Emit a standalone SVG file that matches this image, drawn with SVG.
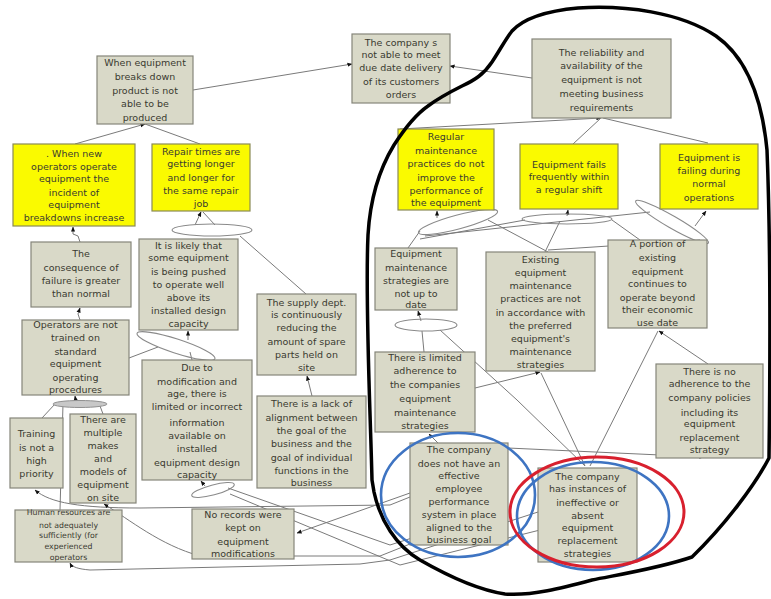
<svg xmlns="http://www.w3.org/2000/svg" width="771" height="599" viewBox="0 0 771 599">
<style>
.g{fill:#d9d9c8;stroke:#85857a;stroke-width:1.2}
.y{fill:#fafa00;stroke:#8a8a55;stroke-width:1.2}
.t{font-family:"DejaVu Sans",sans-serif;font-size:9.5px;fill:#3a3a30;text-anchor:middle}
.s{font-size:7.8px}
.c{fill:none;stroke:#7a7a7a;stroke-width:1}
.e{fill:none;stroke:#8a8a8a;stroke-width:1.1}
</style>
<defs>
<marker id="a" viewBox="0 0 6 6" refX="5.5" refY="3" markerWidth="5" markerHeight="5" orient="auto"><path d="M0,0.5 L6,3 L0,5.5 Z" fill="#111"/></marker>
</defs>
<rect width="771" height="599" fill="#fff"/>

<g id="connectors">
<path class="c" d="M193,90 L352,64" marker-end="url(#a)"/>
<path class="c" d="M532,78 L450,66" marker-end="url(#a)"/>
<path class="c" d="M75,144 L145,124" marker-end="url(#a)"/>
<path class="c" d="M200,144 L145,124"/>
<path class="c" d="M400,129 L601,118" marker-end="url(#a)"/>
<path class="c" d="M573,144 L601,118"/>
<path class="c" d="M708,143 L603,118"/>
<path class="c" d="M80,242 L78,236 L73,234 L73,227" marker-end="url(#a)"/>
<path class="c" d="M80,320 L78,314 L80,308" marker-end="url(#a)"/>
<path class="c" d="M195,225 L201,212" marker-end="url(#a)"/>
<path class="c" d="M215,225 L203,212"/>
<path class="c" d="M240,236 L306,294"/>
<path class="c" d="M188,340 L188,331" marker-end="url(#a)"/>
<path class="c" d="M129,358 L158,347"/>
<path class="c" d="M190,352 L192,360"/>
<path class="c" d="M312,396 L307,376" marker-end="url(#a)"/>
<path class="c" d="M76,402 L75,396" marker-end="url(#a)"/>
<path class="c" d="M55,404 L42,418"/>
<path class="c" d="M100,406 L103,414"/>
<path class="c" d="M63,404 L60,510"/>
<path class="c" d="M410,497 L390,505 L140,508 C80,508 50,503 35,490" marker-end="url(#a)"/>
<path class="c" d="M420,540 L380,556 L200,556 C160,545 130,520 104,504" marker-end="url(#a)"/>
<path class="c" d="M538,512 L390,560 L360,564 L90,570 C78,569 72,567 70,563" marker-end="url(#a)"/>
<path class="c" d="M410,493 L297,533" marker-end="url(#a)"/>
<path class="c" d="M205,486 L201,481" marker-end="url(#a)"/>
<path class="c" d="M228,488 L390,545 L412,538"/>
<path class="c" d="M230,494 L400,565 L540,530"/>
<path class="c" d="M421,321 L418,311" marker-end="url(#a)"/>
<path class="c" d="M422,331 L424,352"/>
<path class="c" d="M440,330 L517,400 L585,466"/>
<path class="c" d="M475,388 L540,372" marker-end="url(#a)"/>
<path class="c" d="M585,466 L541,373"/>
<path class="c" d="M590,466 L658,331"/>
<path class="c" d="M708,364 L659,331" marker-end="url(#a)"/>
<path class="c" d="M508,448 L704,457" marker-end="url(#a)"/>
<path class="c" d="M440,445 L429,434" marker-end="url(#a)"/>
<path class="c" d="M437,218 L437,211" marker-end="url(#a)"/>
<path class="c" d="M420,231 L408,248"/>
<path class="c" d="M488,220 L548,252"/>
<path class="c" d="M567,216 L568,210" marker-end="url(#a)"/>
<path class="c" d="M525,220 L420,239"/>
<path class="c" d="M612,220 L640,240"/>
<path class="c" d="M695,226 L706,211" marker-end="url(#a)"/>
<path class="c" d="M650,212 L425,236"/>
<path class="c" d="M700,240 L548,250"/>
<path class="c" d="M560,221 L545,252"/>
</g>

<g id="and-ellipses">
<ellipse class="e" cx="212" cy="230" rx="40" ry="6"/>
<ellipse class="e" cx="176" cy="346" rx="41" ry="7" transform="rotate(18 176 346)"/>
<ellipse cx="80" cy="404" rx="27" ry="3.5" fill="#c8c8c8" stroke="#909090"/>
<ellipse class="e" cx="213" cy="490" rx="22" ry="5" transform="rotate(-15 213 490)"/>
<ellipse class="e" cx="426" cy="325" rx="31" ry="6"/>
<ellipse class="e" cx="458" cy="222" rx="41" ry="7" transform="rotate(-15 458 222)"/>
<ellipse class="e" cx="567" cy="219" rx="45" ry="5"/>
<ellipse class="e" cx="672" cy="222" rx="42" ry="6" transform="rotate(30 672 222)"/>
</g>

<g id="n1"><rect class="g" x="97" y="56" width="96" height="68"/><text class="t"><tspan x="145" y="65.5">When equipment</tspan><tspan x="145" y="79.5">breaks down</tspan><tspan x="145" y="93.5">product is not</tspan><tspan x="145" y="106.5">able to be</tspan><tspan x="145" y="120.5">produced</tspan></text></g>
<g id="n2"><rect class="g" x="352" y="34" width="98" height="69"/><text class="t"><tspan x="401" y="45.5">The company s</tspan><tspan x="401" y="58">not able to meet</tspan><tspan x="401" y="71">due date delivery</tspan><tspan x="401" y="84.5">of its customers</tspan><tspan x="401" y="98">orders</tspan></text></g>
<g id="n3"><rect class="g" x="532" y="39" width="139" height="79"/><text class="t"><tspan x="601.5" y="55.5">The reliability and</tspan><tspan x="601.5" y="68.5">availability of the</tspan><tspan x="601.5" y="82.5">equipment is not</tspan><tspan x="601.5" y="96.5">meeting business</tspan><tspan x="601.5" y="110.5">requirements</tspan></text></g>
<g id="n4"><rect class="y" x="398" y="129" width="96" height="81"/><text class="t"><tspan x="446" y="139.5">Regular</tspan><tspan x="446" y="153.5">maintenance</tspan><tspan x="446" y="166.5">practices do not</tspan><tspan x="446" y="180.5">improve the</tspan><tspan x="446" y="193.5">performance of</tspan><tspan x="446" y="205.5">the equipment</tspan></text></g>
<g id="n5"><rect class="y" x="520" y="144" width="98" height="65"/><text class="t"><tspan x="569" y="167.5">Equipment fails</tspan><tspan x="569" y="179.5">frequently within</tspan><tspan x="569" y="192.5">a regular shift</tspan></text></g>
<g id="n6"><rect class="y" x="660" y="144" width="98" height="65"/><text class="t"><tspan x="709" y="160.5">Equipment is</tspan><tspan x="709" y="173.5">failing during</tspan><tspan x="709" y="186.5">normal</tspan><tspan x="709" y="200.5">operations</tspan></text></g>
<g id="n7"><rect class="y" x="13" y="144" width="122" height="82"/><text class="t"><tspan x="74" y="156.5">. When new</tspan><tspan x="74" y="169.5">operators operate</tspan><tspan x="74" y="181.5">equipment the</tspan><tspan x="74" y="195.5">incident  of</tspan><tspan x="74" y="207.5">equipment</tspan><tspan x="74" y="220.5">breakdowns increase</tspan></text></g>
<g id="n8"><rect class="y" x="152" y="144" width="98" height="67"/><text class="t"><tspan x="201" y="154.5">Repair times are</tspan><tspan x="201" y="166.5">getting longer</tspan><tspan x="201" y="180.5">and longer for</tspan><tspan x="201" y="193.5">the same repair</tspan><tspan x="201" y="206.5">job</tspan></text></g>
<g id="n9"><rect class="g" x="31" y="242" width="100" height="65"/><text class="t"><tspan x="81" y="256.5">The</tspan><tspan x="81" y="270.5">consequence of</tspan><tspan x="81" y="283.5">failure is greater</tspan><tspan x="81" y="296.5">than normal</tspan></text></g>
<g id="n10"><rect class="g" x="139" y="239" width="99" height="91"/><text class="t"><tspan x="188.5" y="248.5">It is likely that</tspan><tspan x="188.5" y="260.5">some equipment</tspan><tspan x="188.5" y="274.5">is being pushed</tspan><tspan x="188.5" y="287.5">to operate well</tspan><tspan x="188.5" y="300.5">above its</tspan><tspan x="188.5" y="313.5">installed design</tspan><tspan x="188.5" y="326.5">capacity</tspan></text></g>
<g id="n11"><rect class="g" x="257" y="294" width="99" height="81"/><text class="t"><tspan x="306.5" y="305.5">The supply dept.</tspan><tspan x="306.5" y="317.5">is continuously</tspan><tspan x="306.5" y="330.5">reducing the</tspan><tspan x="306.5" y="344.5">amount of spare</tspan><tspan x="306.5" y="357.5">parts held on</tspan><tspan x="306.5" y="370.5">site</tspan></text></g>
<g id="n12"><rect class="g" x="22" y="320" width="107" height="75"/><text class="t"><tspan x="75.5" y="327.5">Operators are not</tspan><tspan x="75.5" y="340.5">trained  on</tspan><tspan x="75.5" y="354.5">standard</tspan><tspan x="75.5" y="366.5">equipment</tspan><tspan x="75.5" y="380.5">operating</tspan><tspan x="75.5" y="393">procedures</tspan></text></g>
<g id="n13"><rect class="g" x="142" y="360" width="110" height="120"/><text class="t"><tspan x="197" y="370.5">Due to</tspan><tspan x="197" y="384.5">modification and</tspan><tspan x="197" y="396.5">age, there is</tspan><tspan x="197" y="409.5">limited or incorrect</tspan><tspan x="197" y="425.5">information</tspan><tspan x="197" y="438.5">available on</tspan><tspan x="197" y="451.5">installed</tspan><tspan x="197" y="465.5">equipment design</tspan><tspan x="197" y="477.5">capacity</tspan></text></g>
<g id="n14"><rect class="g" x="257" y="396" width="109" height="92"/><text class="t"><tspan x="311.5" y="406.5">There is a lack of</tspan><tspan x="311.5" y="420.5">alignment between</tspan><tspan x="311.5" y="433.5">the goal of the</tspan><tspan x="311.5" y="446.5">business and the</tspan><tspan x="311.5" y="460.5">goal of individual</tspan><tspan x="311.5" y="473.5">functions in the</tspan><tspan x="311.5" y="486">business</tspan></text></g>
<g id="n15"><rect class="g" x="10" y="418" width="53" height="70"/><text class="t"><tspan x="36.5" y="436.5">Training</tspan><tspan x="36.5" y="450.5">is not a</tspan><tspan x="36.5" y="463.5">high</tspan><tspan x="36.5" y="476.5">priority</tspan></text></g>
<g id="n16"><rect class="g" x="70" y="414" width="66" height="89"/><text class="t"><tspan x="103" y="422.5">There are</tspan><tspan x="103" y="435.5">multiple</tspan><tspan x="103" y="448.5">makes</tspan><tspan x="103" y="461.5">and</tspan><tspan x="103" y="474.5">models of</tspan><tspan x="103" y="487.5">equipment</tspan><tspan x="103" y="500.5">on site</tspan></text></g>
<g id="n17"><rect class="g" x="15" y="510" width="107" height="52"/><text class="t s"><tspan x="68.5" y="515">Human resources are</tspan><tspan x="68.5" y="527.5">not adequately</tspan><tspan x="68.5" y="538">sufficiently (for</tspan><tspan x="68.5" y="549">experienced</tspan><tspan x="68.5" y="560">operators</tspan></text></g>
<g id="n18"><rect class="g" x="192" y="509" width="102" height="50"/><text class="t"><tspan x="243" y="517.5">No records were</tspan><tspan x="243" y="530.5">kept on</tspan><tspan x="243" y="544.5">equipment</tspan><tspan x="243" y="556.5">modifications</tspan></text></g>
<g id="n19"><rect class="g" x="375" y="248" width="82" height="62"/><text class="t"><tspan x="416" y="256.5">Equipment</tspan><tspan x="416" y="270.5">maintenance</tspan><tspan x="416" y="283.5">strategies are</tspan><tspan x="416" y="296.5">not up to</tspan><tspan x="416" y="308">date</tspan></text></g>
<g id="n20"><rect class="g" x="486" y="252" width="109" height="119"/><text class="t"><tspan x="540.5" y="262.5">Existing</tspan><tspan x="540.5" y="275.5">equipment</tspan><tspan x="540.5" y="288.5">maintenance</tspan><tspan x="540.5" y="301.5">practices are not</tspan><tspan x="540.5" y="315.5">in accordance with</tspan><tspan x="540.5" y="328.5">the preferred</tspan><tspan x="540.5" y="341.5">equipment's</tspan><tspan x="540.5" y="354.5">maintenance</tspan><tspan x="540.5" y="367.5">strategies</tspan></text></g>
<g id="n21"><rect class="g" x="608" y="240" width="99" height="88"/><text class="t"><tspan x="657.5" y="246.5">A portion of</tspan><tspan x="657.5" y="260.5">existing</tspan><tspan x="657.5" y="274.5">equipment</tspan><tspan x="657.5" y="286.5">continues to</tspan><tspan x="657.5" y="300.5">operate beyond</tspan><tspan x="657.5" y="312.5">their economic</tspan><tspan x="657.5" y="325.5">use date</tspan></text></g>
<g id="n22"><rect class="g" x="375" y="352" width="100" height="80"/><text class="t"><tspan x="425" y="360.5">There is limited</tspan><tspan x="425" y="373.5">adherence  to</tspan><tspan x="425" y="387.5">the companies</tspan><tspan x="425" y="401.5">equipment</tspan><tspan x="425" y="416">maintenance</tspan><tspan x="425" y="428.5">strategies</tspan></text></g>
<g id="n23"><rect class="g" x="656" y="364" width="107" height="94"/><text class="t"><tspan x="709.5" y="374.5">There is no</tspan><tspan x="709.5" y="386.5">adherence to the</tspan><tspan x="709.5" y="400.5">company policies</tspan><tspan x="709.5" y="415.5">including its</tspan><tspan x="709.5" y="426.5">equipment</tspan><tspan x="709.5" y="440.5">replacement</tspan><tspan x="709.5" y="452.5">strategy</tspan></text></g>
<g id="n24"><rect class="g" x="410" y="443" width="98" height="102"/><text class="t"><tspan x="459" y="452.5">The company</tspan><tspan x="459" y="466.5">does not have an</tspan><tspan x="459" y="478.5">effective</tspan><tspan x="459" y="491.5">employee</tspan><tspan x="459" y="504.5">performance</tspan><tspan x="459" y="517.5">system in place</tspan><tspan x="459" y="530.5">aligned to the</tspan><tspan x="459" y="542.5">business goal</tspan></text></g>
<g id="n25"><rect class="g" x="538" y="468" width="99" height="94"/><text class="t"><tspan x="587.5" y="479.5">The company</tspan><tspan x="587.5" y="491.5">has instances of</tspan><tspan x="587.5" y="505.5">ineffective or</tspan><tspan x="587.5" y="518.5">absent</tspan><tspan x="587.5" y="530.5">equipment</tspan><tspan x="587.5" y="543.5">replacement</tspan><tspan x="587.5" y="556.5">strategies</tspan></text></g>

<g id="annotations">
<path d="M372,480 C370,400 365,300 368,235 C370,200 380,168 394,145 C405,128 415,115 428,106 C440,97 450,92 462,86 C475,80 484,74 492,62 C500,50 505,40 512,31 C524,18 545,11 578,8 C625,5 680,12 716,36 C746,57 762,98 767,150 C771,250 770,380 769,458 C755,485 725,525 692,557 C660,568 622,574 592,580 C562,588 532,596 505,594 C478,590 448,576 420,560 C396,546 380,520 374,492 Z" fill="none" stroke="#000" stroke-width="3.5" stroke-linejoin="round"/>
<ellipse cx="458" cy="495" rx="77" ry="62" fill="none" stroke="#3e74c2" stroke-width="2.6"/>
<ellipse cx="593" cy="516" rx="76" ry="54" fill="none" stroke="#3e74c2" stroke-width="2.6"/>
<ellipse cx="597" cy="512" rx="87" ry="55" fill="none" stroke="#d8202e" stroke-width="3"/>
</g>
</svg>
